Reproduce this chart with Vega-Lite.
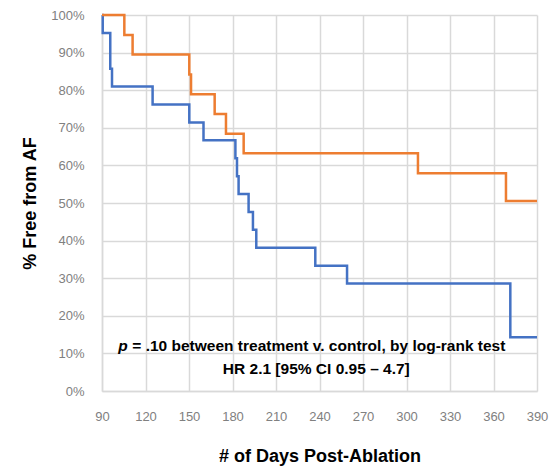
{
  "$schema": "https://vega.github.io/schema/vega-lite/v6.json",
  "width": 435,
  "height": 376,
  "autosize": "none",
  "padding": {"left": 102, "top": 15, "right": 18, "bottom": 79},
  "background": "white",
  "config": {
    "view": {"stroke": null},
    "font": "Liberation Sans"
  },
  "datasets": {
    "km": [
      {"group": "Control", "day": 90, "surv": 100},
      {"group": "Control", "day": 90.5, "surv": 95.2},
      {"group": "Control", "day": 95.7, "surv": 85.7},
      {"group": "Control", "day": 96.9, "surv": 81.0},
      {"group": "Control", "day": 124.9, "surv": 76.2},
      {"group": "Control", "day": 150.2, "surv": 71.4},
      {"group": "Control", "day": 160, "surv": 66.7},
      {"group": "Control", "day": 182, "surv": 61.9},
      {"group": "Control", "day": 183.1, "surv": 57.1},
      {"group": "Control", "day": 184.2, "surv": 52.4},
      {"group": "Control", "day": 191.1, "surv": 47.6},
      {"group": "Control", "day": 194.1, "surv": 42.9},
      {"group": "Control", "day": 196.4, "surv": 38.1},
      {"group": "Control", "day": 237.1, "surv": 33.3},
      {"group": "Control", "day": 259, "surv": 28.6},
      {"group": "Control", "day": 371.6, "surv": 14.3},
      {"group": "Control", "day": 390, "surv": 14.3},
      {"group": "Treatment", "day": 90, "surv": 100},
      {"group": "Treatment", "day": 105.4, "surv": 94.7},
      {"group": "Treatment", "day": 111.1, "surv": 89.5},
      {"group": "Treatment", "day": 150.2, "surv": 84.2},
      {"group": "Treatment", "day": 151.4, "surv": 78.9},
      {"group": "Treatment", "day": 167.7, "surv": 73.7},
      {"group": "Treatment", "day": 175.5, "surv": 68.4},
      {"group": "Treatment", "day": 187.7, "surv": 63.2},
      {"group": "Treatment", "day": 307.9, "surv": 57.9},
      {"group": "Treatment", "day": 368.6, "surv": 50.5},
      {"group": "Treatment", "day": 390, "surv": 50.5}
    ],
    "pnote": [
      {"day": 101.2, "surv": 12, "label": "p"}
    ],
    "line1": [
      {"day": 110.9, "surv": 12, "label": "= .10 between treatment v. control, by log-rank test"}
    ],
    "line2": [
      {"day": 237.8, "surv": 5.85, "label": "HR 2.1 [95% CI 0.95 – 4.7]"}
    ]
  },
  "encoding": {
    "x": {
      "field": "day", "type": "quantitative",
      "scale": {"domain": [90, 390], "nice": false, "zero": false},
      "axis": {
        "values": [90, 120, 150, 180, 210, 240, 270, 300, 330, 360, 390],
        "title": "# of Days Post-Ablation",
        "titleFontSize": 18, "titleFontWeight": "bold", "titleColor": "#000000",
        "titlePadding": 24,
        "labelFontSize": 13, "labelColor": "#808080", "labelPadding": 19,
        "labelFlush": false, "labelOverlap": false,
        "ticks": false, "domainColor": "#d9d9d9", "domainWidth": 1.5,
        "grid": true, "gridColor": "#d9d9d9", "gridWidth": 1.5
      }
    },
    "y": {
      "field": "surv", "type": "quantitative",
      "scale": {"domain": [0, 100], "nice": false},
      "axis": {
        "values": [0, 10, 20, 30, 40, 50, 60, 70, 80, 90, 100],
        "labelExpr": "datum.value + '%'",
        "title": "% Free from AF",
        "titleFontSize": 18, "titleFontWeight": "bold", "titleColor": "#000000",
        "titlePadding": 11,
        "labelFontSize": 13, "labelColor": "#808080", "labelPadding": 18,
        "labelFlush": false, "labelOverlap": false,
        "ticks": false, "domainColor": "#d9d9d9", "domainWidth": 1.5,
        "grid": true, "gridColor": "#d9d9d9", "gridWidth": 1.5
      }
    }
  },
  "layer": [
    {
      "data": {"name": "km"},
      "mark": {"type": "line", "interpolate": "step-after", "strokeWidth": 2.5},
      "encoding": {
        "color": {
          "field": "group", "type": "nominal",
          "scale": {"domain": ["Control", "Treatment"], "range": ["#4472C4", "#ED7D31"]},
          "legend": null
        }
      }
    },
    {
      "data": {"name": "pnote"},
      "mark": {"type": "text", "fontWeight": "bold", "fontStyle": "italic", "fontSize": 15.5, "color": "#000000", "baseline": "middle", "align": "left"},
      "encoding": {"text": {"field": "label"}}
    },
    {
      "data": {"name": "line1"},
      "mark": {"type": "text", "fontWeight": "bold", "fontSize": 15.5, "letterSpacing": 0.75, "color": "#000000", "baseline": "middle", "align": "left"},
      "encoding": {"text": {"field": "label"}}
    },
    {
      "data": {"name": "line2"},
      "mark": {"type": "text", "fontWeight": "bold", "fontSize": 15.5, "color": "#000000", "baseline": "middle", "align": "center"},
      "encoding": {"text": {"field": "label"}}
    }
  ]
}
